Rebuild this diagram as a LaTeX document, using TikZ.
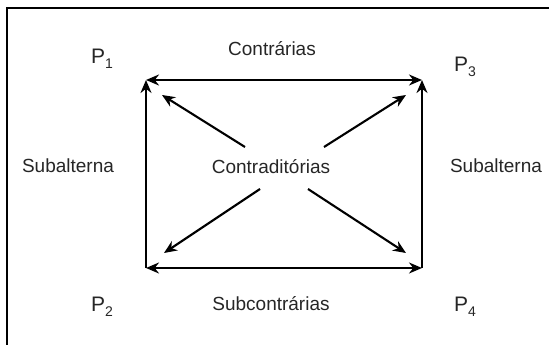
\documentclass[tikz,border=0pt]{standalone}
\usepackage{fontspec}
\setmainfont{Liberation Sans}
\usetikzlibrary{arrows.meta}
\newcommand{\plabel}[1]{P\raisebox{-5pt}{\fontsize{14}{14}\selectfont #1}}
\begin{document}
\begin{tikzpicture}[
  x=1pt, y=-1pt,
  lbl/.style={text=black!85, inner sep=0pt, font=\fontsize{19}{22}\selectfont},
  plbl/.style={text=black!85, inner sep=0pt, font=\fontsize{21}{24}\selectfont},
  arrow/.style={-{Stealth[length=13pt,width=11pt]}, line width=2.1pt},
  both/.style={{Stealth[length=13pt,width=11pt]}-{Stealth[length=13pt,width=11pt]}, line width=2.1pt}
]
\useasboundingbox (0,0) rectangle (549,345);
% frame
\draw[line width=2.6pt] (549,8) -- (7,8) -- (7,345);
% corners of the square
\coordinate (c1) at (146,80);
\coordinate (c3) at (422,80);
\coordinate (c2) at (146,268);
\coordinate (c4) at (422,268);
% labels
\node[plbl] (p1) at (102,59) {\plabel{1}};
\node[plbl] (p3) at (465,67) {\plabel{3}};
\node[plbl] (p2) at (102,307) {\plabel{2}};
\node[plbl] (p4) at (465,307) {\plabel{4}};
\node[lbl] (contr) at (272,49) {Contrárias};
\node[lbl] (subcontr) at (271,304) {Subcontrárias};
\node[lbl] (subl) at (68,166) {Subalterna};
\node[lbl] (subr) at (496,166) {Subalterna};
\node[lbl] (contrad) at (271,167) {Contraditórias};
% ends of the diagonals
\coordinate (ul) at (245,147);
\coordinate (ur) at (324,147);
\coordinate (dl) at (260,189);
\coordinate (dr) at (308,189);
\coordinate (tul) at (162,95);
\coordinate (tur) at (406,95);
\coordinate (tdl) at (164,253);
\coordinate (tdr) at (406,253);
% sides
\draw[both] (c1) -- (c3);
\draw[both] (c2) -- (c4);
\draw[arrow] (c2) -- (c1);
\draw[arrow] (c4) -- (c3);
% diagonals
\draw[arrow] (ul) -- (tul);
\draw[arrow] (ur) -- (tur);
\draw[arrow] (dl) -- (tdl);
\draw[arrow] (dr) -- (tdr);
\end{tikzpicture}
\end{document}
